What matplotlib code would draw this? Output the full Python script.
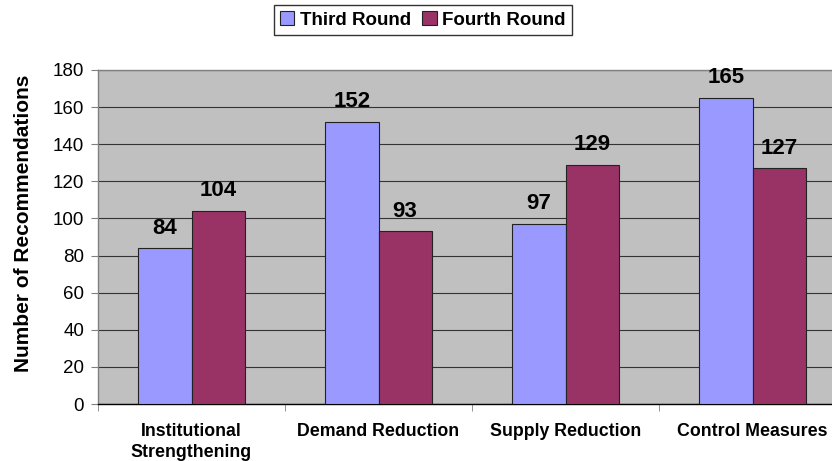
import numpy as np
import matplotlib
matplotlib.use("Agg")
from matplotlib import pyplot as plt

# 数据
categories = ["Institutional\nStrengthening", "Demand Reduction", "Supply Reduction", "Control Measures"]
third_round = [84, 152, 97, 165]
fourth_round = [104, 93, 129, 127]
series_names = ["Third Round", "Fourth Round"]

plt.rcParams['font.family'] = ['Liberation Sans', 'DejaVu Sans']

fig = plt.figure(figsize=(8.32, 4.61), dpi=100)
ax = fig.add_axes([98 / 832, 1 - 404 / 461, 748 / 832, 334 / 461])
ax.set_facecolor('#C0C0C0')

x = np.arange(len(categories))
w = 0.284
b1 = ax.bar(x - w / 2, third_round, w, color='#9999FF', edgecolor='#222222', linewidth=0.8,
            label=series_names[0], zorder=3)
b2 = ax.bar(x + w / 2, fourth_round, w, color='#993366', edgecolor='#222222', linewidth=0.8,
            label=series_names[1], zorder=3)

# 数值标签
for bars in (b1, b2):
    for r in bars:
        ax.annotate('%d' % r.get_height(), (r.get_x() + r.get_width() / 2, r.get_height()),
                    xytext=(0, 10.5), textcoords='offset points', ha='center', va='baseline',
                    fontsize=16, fontweight='bold', zorder=5)

ax.set_xlim(-0.5, len(categories) - 0.5)
ax.set_ylim(0, 180)
ax.set_yticks(np.arange(0, 181, 20))
ax.yaxis.grid(True, color='#333333', linewidth=0.8, zorder=1)
ax.set_axisbelow(True)

ax.set_xticks(x)
ax.set_xticklabels(categories, fontsize=12.8, fontweight='bold', linespacing=1.25)
ax.set_xticks(np.arange(-0.5, len(categories), 1), minor=True)
ax.tick_params(axis='x', which='major', length=0, pad=14)
ax.tick_params(axis='x', which='minor', length=5, color='#808080')
ax.tick_params(axis='y', length=5, color='#808080', labelsize=13.5, pad=5)

for s in ax.spines.values():
    s.set_color('#808080')
    s.set_linewidth(1)
ax.spines['bottom'].set_color('#000000')

ax.set_ylabel('Number of Recommendations', fontsize=15, fontweight='bold')
ax.yaxis.set_label_coords(-0.087, 0.542)

leg = fig.legend(loc='center', bbox_to_anchor=(423 / 832, 1 - 20 / 461), ncol=2,
                 frameon=True, fancybox=False, edgecolor='#000000',
                 prop={'weight': 'bold', 'size': 13.5}, handlelength=0.75, handleheight=0.75,
                 handletextpad=0.3, columnspacing=0.6, borderpad=0.35, borderaxespad=0)
leg.get_frame().set_linewidth(1)

fig.savefig('out.png', dpi=100)
